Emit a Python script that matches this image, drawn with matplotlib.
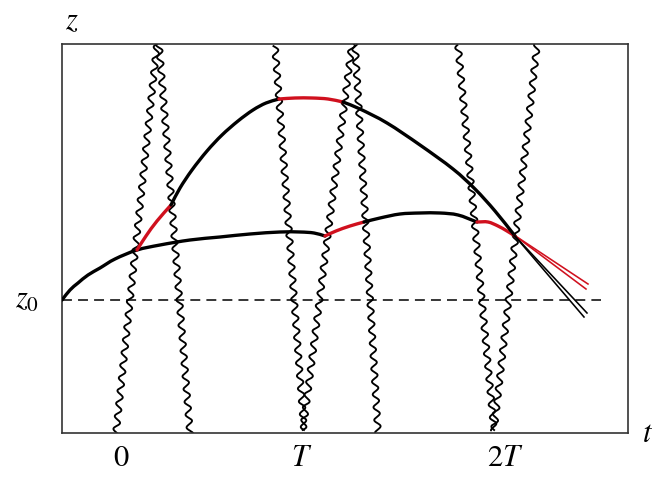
import matplotlib
matplotlib.use('Agg')
import matplotlib.pyplot as plt
from matplotlib.path import Path
from matplotlib.patches import PathPatch
import numpy as np

plt.rcParams['mathtext.fontset'] = 'stix'
plt.rcParams['font.family'] = 'STIXGeneral'

RED = '#d0101e'

# light rays: (x at top, y at top, x at bottom, y at bottom)
rays = [(157, 44, 116, 433),
        (159, 44, 190, 433),
        (275, 46, 304, 430),
        (352, 44, 303, 430),
        (355, 44, 378, 433),
        (458, 45, 494, 430),
        (537, 45, 494, 430)]

# lower trajectory
low_black1 = [(62, 300), (70, 290), (78, 283), (88, 275), (100, 268), (115, 259),
              (137, 250), (160, 245), (190, 240), (220, 237), (250, 234), (280, 232),
              (300, 232), (314, 233), (325, 236)]
low_red1 = [(325, 236), (336, 231), (350, 226), (364, 222)]
low_black2 = [(364, 222), (380, 218), (400, 214), (420, 213), (440, 213), (458, 215), (477, 222)]
low_red2 = [(477, 222), (488, 222), (498, 226), (507, 231), (515, 236)]

# upper trajectory
up_red1 = [(137, 250), (146, 236), (157, 221), (171, 205)]
up_black1 = [(171, 205), (180, 188), (192, 170), (207, 151), (222, 135), (238, 121),
             (253, 110), (266, 103), (279, 99)]
up_red2 = [(279, 99), (295, 98), (312, 98), (328, 99), (343, 102)]
up_black2 = [(343, 102), (360, 109), (387, 123), (420, 145), (453, 169), (475, 189),
             (495, 211), (515, 236)]

# fan of continuations after the last crossing
fan_start = (514, 235)
fan_red_ends = [(588, 284), (586, 289)]
fan_black_ends = [(587, 313), (584, 317)]

z0_y = 300
dash_end = 601

tick_x = [121, 302, 505]
tick_labels = ['$0$', '$T$', '$2T$']

W, H = 667, 493
x_left, x_right, y_top, y_bot = 62, 628, 44, 433

fig = plt.figure(figsize=(W / 100, H / 100), dpi=100)
ax = fig.add_axes([x_left / W, (H - y_bot) / H, (x_right - x_left) / W, (y_bot - y_top) / H])
ax.set_xlim(x_left, x_right)
ax.set_ylim(y_bot, y_top)
ax.set_xticks([])
ax.set_yticks([])
for sp in ax.spines.values():
    sp.set_linewidth(1.2)
    sp.set_color('#333333')


def wavy(x0, y0, x1, y1, amp=3.0, lam=12.8, phase=0.0):
    p0 = np.array([x0, y0], float)
    p1 = np.array([x1, y1], float)
    L = np.hypot(*(p1 - p0))
    d = (p1 - p0) / L
    n = np.array([-d[1], d[0]])
    s = np.linspace(0, L, int(L * 4))
    off = amp * np.sin(2 * np.pi * s / lam + phase)
    pts = p0[None, :] + s[:, None] * d[None, :] + off[:, None] * n[None, :]
    return pts[:, 0], pts[:, 1]


for i, (xa, ya, xb, yb) in enumerate(rays):
    wx, wy = wavy(xa, ya, xb, yb, phase=i * 1.3)
    ax.plot(wx, wy, color='black', lw=1.35, zorder=2)

ax.plot([x_left, dash_end], [z0_y, z0_y], color='black', lw=1.1, dashes=(6.5, 4), zorder=1)


def seg(pts, color):
    # smooth path through the read points (Catmull-Rom as cubic Bezier pieces)
    p = np.array(pts, float)
    ext = np.vstack([2 * p[0] - p[1], p, 2 * p[-1] - p[-2]])
    verts = [p[0]]
    codes = [Path.MOVETO]
    for k in range(1, len(ext) - 2):
        c1 = ext[k] + (ext[k + 1] - ext[k - 1]) / 6
        c2 = ext[k + 1] - (ext[k + 2] - ext[k]) / 6
        verts += [c1, c2, ext[k + 1]]
        codes += [Path.CURVE4] * 3
    ax.add_patch(PathPatch(Path(verts, codes), fill=False, edgecolor=color, lw=2.4,
                           capstyle='round', joinstyle='round', zorder=3))


seg(low_black1, 'black')
seg(low_red1, RED)
seg(low_black2, 'black')
seg(low_red2, RED)
seg(up_red1, RED)
seg(up_black1, 'black')
seg(up_red2, RED)
seg(up_black2, 'black')

for ex, ey in fan_red_ends:
    ax.plot([fan_start[0], ex], [fan_start[1], ey], color=RED, lw=1.15, zorder=3)
for ex, ey in fan_black_ends:
    ax.plot([fan_start[0], ex], [fan_start[1], ey], color='black', lw=1.15, zorder=3)

for tx, lab in zip(tick_x, tick_labels):
    ax.text(tx, 459, lab, fontsize=22, ha='center', va='center', clip_on=False)
ax.text(648, 435, '$t$', fontsize=22, ha='center', va='center', clip_on=False)
ax.text(72, 22, '$z$', fontsize=22, ha='center', va='center', clip_on=False)
ax.text(27, 301, '$z_0$', fontsize=22, ha='center', va='center', clip_on=False)

fig.savefig('out.png', dpi=100)
